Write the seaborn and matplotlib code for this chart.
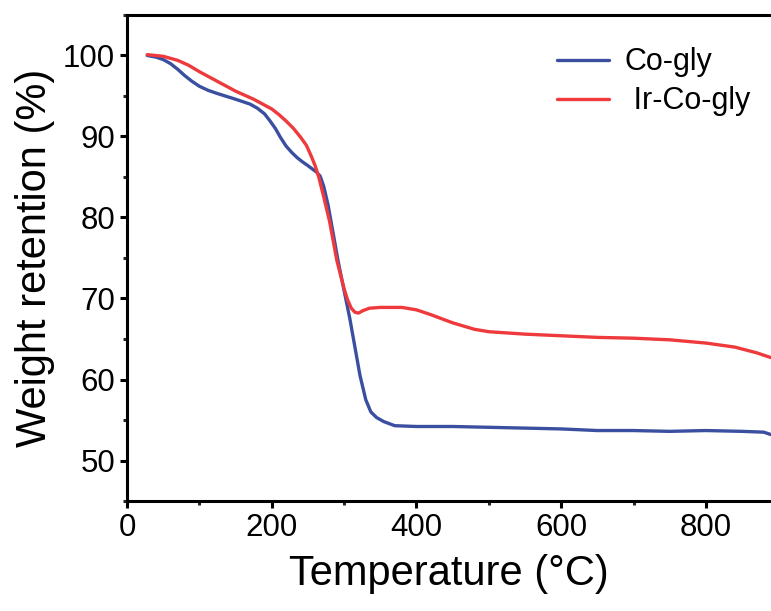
import numpy as np
import pandas as pd
import matplotlib
matplotlib.use("Agg")
import matplotlib.pyplot as plt
from matplotlib.ticker import MultipleLocator
import seaborn as sns

# TGA curves
co_temp = [28, 40, 50, 60, 70, 80, 90, 100, 112, 125, 150, 170, 180, 190,
           197, 205, 212, 220, 228, 235, 242, 250, 256, 262, 267, 272, 278,
           285, 292, 300, 308, 315, 322, 330, 337, 345, 355, 370, 400, 450,
           500, 550, 600, 650, 700, 750, 800, 850, 880, 890]
co_weight = [100.0, 99.8, 99.5, 99.0, 98.3, 97.5, 96.8, 96.2, 95.7, 95.3,
             94.6, 94.0, 93.5, 92.8, 92.0, 91.0, 89.9, 88.8, 88.0, 87.4,
             86.9, 86.4, 86.0, 85.6, 85.1, 83.8, 81.5, 78.0, 74.5, 71.0,
             67.5, 64.0, 60.5, 57.5, 56.0, 55.3, 54.8, 54.3, 54.2, 54.2,
             54.1, 54.0, 53.9, 53.7, 53.7, 53.6, 53.7, 53.6, 53.5, 53.2]

irco_temp = [28, 50, 70, 85, 100, 125, 150, 175, 200, 210, 220, 230, 240,
             248, 255, 260, 265, 272, 280, 290, 300, 305, 310, 315, 320, 326,
             335, 350, 380, 400, 420, 450, 480, 500, 550, 600, 650, 700, 750,
             800, 840, 870, 890]
irco_weight = [100.1, 99.9, 99.4, 98.8, 98.0, 96.8, 95.6, 94.6, 93.4, 92.7,
               91.9, 91.0, 89.9, 88.9, 87.5, 86.4, 85.0, 82.5, 79.5, 74.7,
               71.2, 69.8, 68.8, 68.3, 68.2, 68.5, 68.8, 68.9, 68.9, 68.6,
               68.0, 67.0, 66.2, 65.9, 65.6, 65.4, 65.2, 65.1, 64.9, 64.5,
               64.0, 63.3, 62.7]

df = pd.concat([
    pd.DataFrame({"T": co_temp, "W": co_weight, "sample": "Co-gly"}),
    pd.DataFrame({"T": irco_temp, "W": irco_weight, "sample": " Ir-Co-gly"}),
])

sns.set_style("ticks")
plt.rcParams["font.family"] = ["Liberation Sans", "DejaVu Sans"]
plt.rcParams["text.color"] = "black"
plt.rcParams["axes.labelcolor"] = "black"

fig = plt.figure(figsize=(7.71, 6.11), dpi=100)
ax = fig.add_axes([0.1647, 0.18, 0.8353, 0.7955])

sns.lineplot(data=df, x="T", y="W", hue="sample", sort=False,
             palette=["#3A4FA0", "#EE3A3C"], linewidth=2.4, ax=ax)

ax.set_xlim(0, 890)
ax.set_ylim(45, 105)
ax.xaxis.set_major_locator(MultipleLocator(200))
ax.xaxis.set_minor_locator(MultipleLocator(100))
ax.yaxis.set_major_locator(MultipleLocator(10))
ax.yaxis.set_minor_locator(MultipleLocator(5))
ax.set_yticks([50, 60, 70, 80, 90, 100])

for s in ["left", "bottom", "top"]:
    ax.spines[s].set_linewidth(2.2)
    ax.spines[s].set_color("black")
ax.spines["right"].set_visible(False)

ax.tick_params(which="major", direction="out", length=5, width=2.2,
               labelsize=22.5, colors="black", top=False, right=False)
ax.tick_params(which="minor", direction="out", length=3, width=2.2,
               top=False, right=False)

ax.set_xlabel("Temperature (°C)", fontsize=30, labelpad=8)
ax.set_ylabel("Weight retention (%)", fontsize=30, labelpad=6)

leg = ax.legend(loc="upper right", bbox_to_anchor=(1.01, 0.99), frameon=False,
                fontsize=22, handlelength=1.7, handletextpad=0.5,
                labelspacing=0.3, title=None)

fig.savefig("out.png", dpi=100)
